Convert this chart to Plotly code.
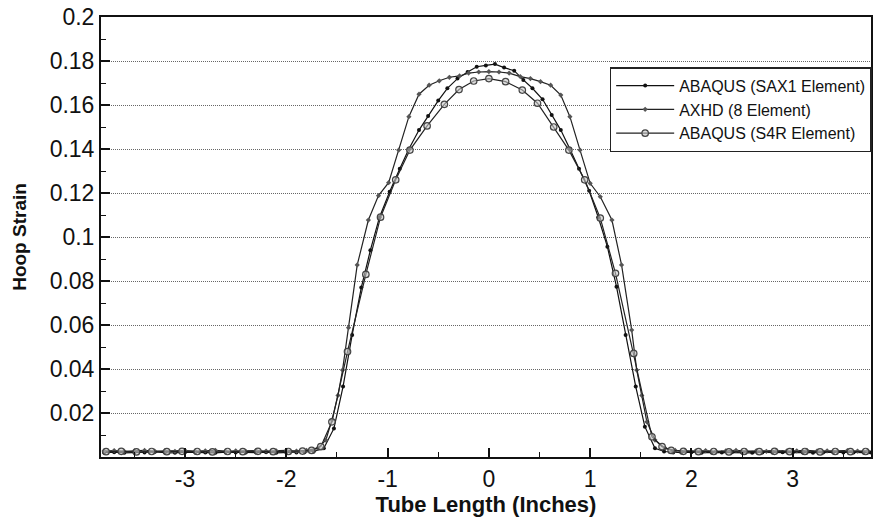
import plotly.graph_objects as go

# ABAQUS (SAX1 Element)
x_sax1 = [-3.80, -3.70, -3.60, -3.50, -3.40, -3.30, -3.20, -3.10, -3.00, -2.90, -2.80,
          -2.70, -2.60, -2.50, -2.40, -2.30, -2.20, -2.10, -2.00, -1.90, -1.82,
          -1.73, -1.63, -1.53, -1.44, -1.35, -1.26, -1.17, -1.08, -0.98, -0.88,
          -0.79, -0.69, -0.60, -0.50, -0.41, -0.31, -0.21, -0.12, -0.03, 0.06,
          0.15, 0.25, 0.34, 0.43, 0.53, 0.62, 0.71, 0.80, 0.89, 0.99,
          1.08, 1.17, 1.26, 1.35, 1.45, 1.54, 1.64, 1.73,
          1.82, 1.90, 2.00, 2.10, 2.20, 2.30, 2.40, 2.50, 2.60, 2.70, 2.80,
          2.90, 3.00, 3.10, 3.20, 3.30, 3.40, 3.50, 3.60, 3.70, 3.77]
y_sax1 = [0.0020, 0.0022, 0.0019, 0.0021, 0.0020, 0.0023, 0.0020, 0.0019, 0.0022, 0.0020, 0.0021,
          0.0019, 0.0022, 0.0020, 0.0021, 0.0020, 0.0022, 0.0019, 0.0021, 0.0020, 0.0022,
          0.0025, 0.0040, 0.0130, 0.0320, 0.0555, 0.0770, 0.0940, 0.1090, 0.1206, 0.1310,
          0.1400, 0.1486, 0.1550, 0.1620, 0.1676, 0.1720, 0.1750, 0.1774, 0.1780, 0.1786,
          0.1770, 0.1756, 0.1714, 0.1676, 0.1626, 0.1555, 0.1486, 0.1400, 0.1310, 0.1210,
          0.1090, 0.0956, 0.0774, 0.0555, 0.0320, 0.0138, 0.0040, 0.0025,
          0.0021, 0.0020, 0.0022, 0.0019, 0.0021, 0.0020, 0.0022, 0.0020, 0.0019, 0.0021, 0.0020,
          0.0022, 0.0020, 0.0021, 0.0019, 0.0020, 0.0022, 0.0020, 0.0021, 0.0020, 0.0021]

# AXHD (8 Element)
x_axhd = [-3.80, -3.70, -3.60, -3.50, -3.40, -3.30, -3.20, -3.10, -3.00, -2.90, -2.80,
          -2.70, -2.60, -2.50, -2.40, -2.30, -2.20, -2.10, -2.00, -1.90, -1.80,
          -1.69, -1.61, -1.55, -1.49, -1.445, -1.386, -1.30, -1.19, -1.09, -0.99,
          -0.89, -0.79, -0.69, -0.59, -0.49, -0.39, -0.29, -0.20, -0.10, 0.00,
          0.10, 0.20, 0.31, 0.41, 0.51, 0.61, 0.71, 0.80, 0.90, 1.00,
          1.10, 1.215, 1.31, 1.41, 1.46, 1.51, 1.56, 1.64, 1.74,
          1.84, 1.94, 2.04, 2.14, 2.24, 2.34, 2.44, 2.54, 2.64, 2.74, 2.84,
          2.94, 3.04, 3.14, 3.24, 3.34, 3.44, 3.54, 3.64, 3.74]
y_axhd = [0.0027, 0.0029, 0.0026, 0.0028, 0.0030, 0.0027, 0.0028, 0.0026, 0.0029, 0.0027, 0.0028,
          0.0030, 0.0027, 0.0028, 0.0026, 0.0029, 0.0027, 0.0028, 0.0030, 0.0027, 0.0030,
          0.0040, 0.0077, 0.0168, 0.0280, 0.0395, 0.0588, 0.0873, 0.1077, 0.1188, 0.1247,
          0.1395, 0.1547, 0.1649, 0.1690, 0.1710, 0.1726, 0.1732, 0.1745, 0.1750, 0.1752,
          0.1750, 0.1745, 0.1729, 0.1720, 0.1706, 0.1690, 0.1645, 0.1547, 0.1395, 0.1244,
          0.1183, 0.1077, 0.0873, 0.0577, 0.0395, 0.0280, 0.0160, 0.0077, 0.0040,
          0.0030, 0.0028, 0.0027, 0.0029, 0.0026, 0.0028, 0.0030, 0.0027, 0.0028, 0.0026, 0.0029,
          0.0027, 0.0028, 0.0030, 0.0027, 0.0028, 0.0026, 0.0029, 0.0027, 0.0028]

# ABAQUS (S4R Element)
x_s4r = [-3.78, -3.63, -3.48, -3.33, -3.18, -3.03, -2.88, -2.73, -2.58, -2.43, -2.28,
         -2.13, -1.98, -1.84, -1.75,
         -1.66, -1.55, -1.396, -1.215, -1.07, -0.92, -0.78, -0.61, -0.44, -0.295, -0.15,
         0.00, 0.165, 0.33, 0.48, 0.64, 0.79, 0.946, 1.10, 1.25, 1.43, 1.61, 1.71,
         1.80, 1.92, 2.07, 2.22, 2.37, 2.52, 2.67, 2.82, 2.97, 3.12, 3.27, 3.42, 3.57, 3.72]
y_s4r = [0.0024, 0.0026, 0.0023, 0.0025, 0.0024, 0.0026, 0.0025, 0.0023, 0.0025, 0.0024, 0.0026,
         0.0024, 0.0025, 0.0027, 0.0030,
         0.0047, 0.0160, 0.0479, 0.0830, 0.1090, 0.1260, 0.1395, 0.1505, 0.1603, 0.1670, 0.1709,
         0.1720, 0.1706, 0.1668, 0.1608, 0.1500, 0.1395, 0.1260, 0.1086, 0.0835, 0.0471, 0.0092, 0.0047,
         0.0030, 0.0026, 0.0024, 0.0025, 0.0023, 0.0025, 0.0024, 0.0026, 0.0024, 0.0025, 0.0023, 0.0025, 0.0024, 0.0025]

y_ticks = [0.02, 0.04, 0.06, 0.08, 0.10, 0.12, 0.14, 0.16, 0.18, 0.20]
y_tick_text = ["0.02", "0.04", "0.06", "0.08", "0.1", "0.12", "0.14", "0.16", "0.18", "0.2"]
x_ticks = [-3, -2, -1, 0, 1, 2, 3]
x_tick_text = ["-3", "-2", "-1", "0", "1", "2", "3"]

FONT = "Liberation Sans, Arial, sans-serif"

fig = go.Figure()
fig.add_trace(go.Scatter(
    x=x_sax1, y=y_sax1, mode="lines+markers", name="ABAQUS (SAX1 Element)",
    line=dict(color="#111111", width=1.2),
    marker=dict(symbol="circle", size=4, color="#111111")))
fig.add_trace(go.Scatter(
    x=x_axhd, y=y_axhd, mode="lines+markers", name="AXHD (8 Element)",
    line=dict(color="#222222", width=1.2),
    marker=dict(symbol="diamond", size=4, color="#555555")))
fig.add_trace(go.Scatter(
    x=x_s4r, y=y_s4r, mode="lines+markers", name="ABAQUS (S4R Element)",
    line=dict(color="#222222", width=1.2),
    marker=dict(symbol="circle", size=6.5, color="rgba(200,200,200,0.6)",
                line=dict(color="#444444", width=1.2))))

fig.update_layout(
    width=873, height=520,
    margin=dict(l=101, r=0, t=17, b=63),
    paper_bgcolor="white", plot_bgcolor="white",
    font=dict(family=FONT, color="#111111"),
    showlegend=True,
    legend=dict(x=0.6606, y=0.886, xanchor="left", yanchor="top",
                bgcolor="white", bordercolor="#222222", borderwidth=1.5,
                font=dict(size=16, family=FONT, color="#111111"),
                itemwidth=58, tracegroupgap=0),
    xaxis=dict(
        range=[-3.83, 3.773],
        tickmode="array", tickvals=x_ticks, ticktext=x_tick_text,
        ticks="inside", ticklen=9, tickwidth=1.5, tickcolor="#111111",
        minor=dict(dtick=0.5, ticks="inside", ticklen=5, tickwidth=1, tickcolor="#111111"),
        showgrid=False, zeroline=False,
        showline=True, linecolor="#111111", linewidth=2, mirror=True,
        tickfont=dict(size=23, family=FONT, color="#111111"),
        title=dict(text="<b>Tube Length (Inches)</b>", standoff=5,
                   font=dict(size=22, family=FONT, color="#111111")),
    ),
    yaxis=dict(
        range=[0, 0.2],
        tickmode="array", tickvals=y_ticks, ticktext=y_tick_text,
        ticks="inside", ticklen=9, tickwidth=1.5, tickcolor="#111111",
        minor=dict(dtick=0.01, ticks="inside", ticklen=5, tickwidth=1, tickcolor="#111111"),
        showgrid=True, gridcolor="#666666", griddash="1px,1px", gridwidth=1,
        zeroline=False,
        showline=True, linecolor="#111111", linewidth=2, mirror=True,
        tickfont=dict(size=23, family=FONT, color="#111111"),
        title=dict(text="<b>Hoop Strain</b>", standoff=18,
                   font=dict(size=19, family=FONT, color="#111111")),
    ),
)

fig.write_html("out.html")
